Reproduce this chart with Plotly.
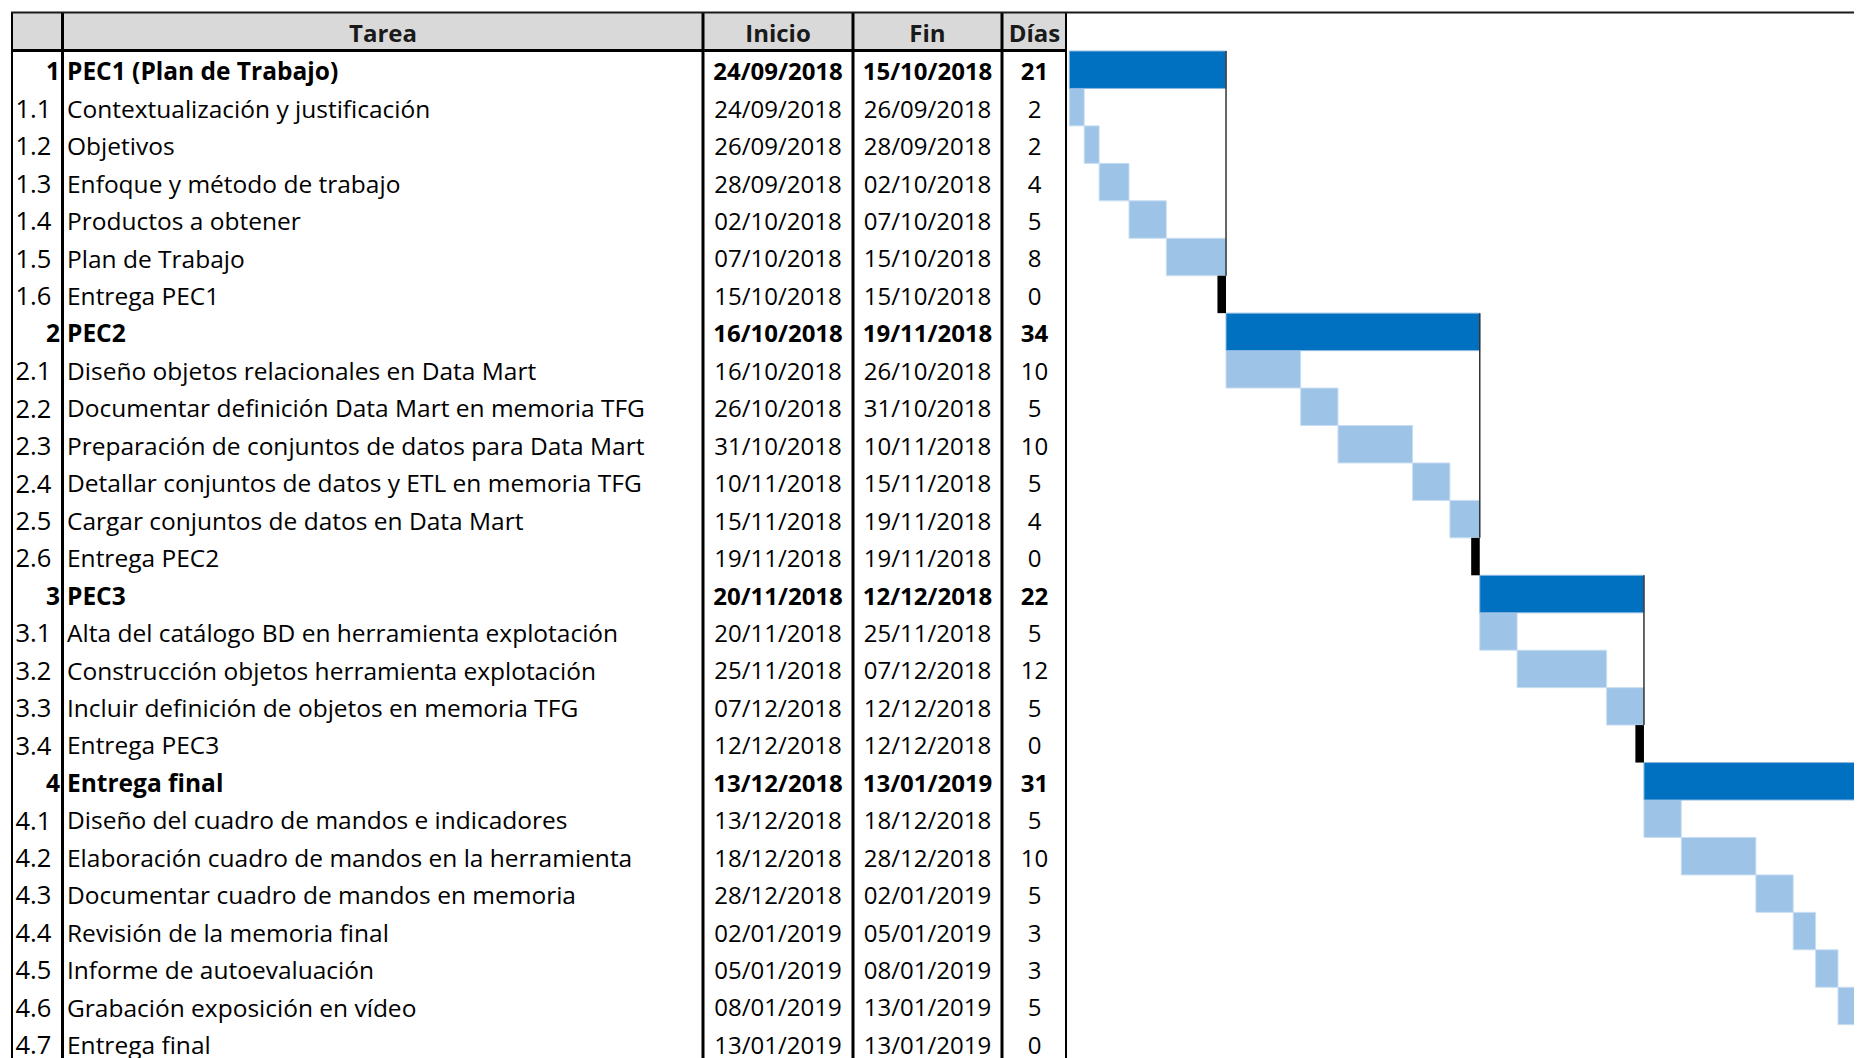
import plotly.graph_objects as go

# ---------------- data ----------------
ids = ["1", "1.1", "1.2", "1.3", "1.4", "1.5", "1.6",
       "2", "2.1", "2.2", "2.3", "2.4", "2.5", "2.6",
       "3", "3.1", "3.2", "3.3", "3.4",
       "4", "4.1", "4.2", "4.3", "4.4", "4.5", "4.6", "4.7"]
tareas = ["PEC1 (Plan de Trabajo)", "Contextualización y justificación", "Objetivos",
          "Enfoque y método de trabajo", "Productos a obtener", "Plan de Trabajo", "Entrega PEC1",
          "PEC2", "Diseño objetos relacionales en Data Mart",
          "Documentar definición Data Mart en memoria TFG",
          "Preparación de conjuntos de datos para Data Mart",
          "Detallar conjuntos de datos y ETL en memoria TFG",
          "Cargar conjuntos de datos en Data Mart", "Entrega PEC2",
          "PEC3", "Alta del catálogo BD en herramienta explotación",
          "Construcción objetos herramienta explotación",
          "Incluir definición de objetos en memoria TFG", "Entrega PEC3",
          "Entrega final", "Diseño del cuadro de mandos e indicadores",
          "Elaboración cuadro de mandos en la herramienta",
          "Documentar cuadro de mandos en memoria", "Revisión de la memoria final",
          "Informe de autoevaluación", "Grabación exposición en vídeo", "Entrega final"]
inicio = ["24/09/2018", "24/09/2018", "26/09/2018", "28/09/2018", "02/10/2018", "07/10/2018", "15/10/2018",
          "16/10/2018", "16/10/2018", "26/10/2018", "31/10/2018", "10/11/2018", "15/11/2018", "19/11/2018",
          "20/11/2018", "20/11/2018", "25/11/2018", "07/12/2018", "12/12/2018",
          "13/12/2018", "13/12/2018", "18/12/2018", "28/12/2018", "02/01/2019", "05/01/2019", "08/01/2019",
          "13/01/2019"]
fin = ["15/10/2018", "26/09/2018", "28/09/2018", "02/10/2018", "07/10/2018", "15/10/2018", "15/10/2018",
       "19/11/2018", "26/10/2018", "31/10/2018", "10/11/2018", "15/11/2018", "19/11/2018", "19/11/2018",
       "12/12/2018", "25/11/2018", "07/12/2018", "12/12/2018", "12/12/2018",
       "13/01/2019", "18/12/2018", "28/12/2018", "02/01/2019", "05/01/2019", "08/01/2019", "13/01/2019",
       "13/01/2019"]
dias = [21, 2, 2, 4, 5, 8, 0,
        34, 10, 5, 10, 5, 4, 0,
        22, 5, 12, 5, 0,
        31, 5, 10, 5, 3, 3, 5, 0]
headers = ["Tarea", "Inicio", "Fin", "Días"]

# ---------------- derived (schedule offsets from cumulative durations) ----------------
n = len(ids)
rows = list(range(n))
is_phase = ["." not in s for s in ids]
offset = []
running = 0
for i in range(n):
    offset.append(running)
    if not is_phase[i]:
        running += dias[i]

# ---------------- layout constants (screen pixels) ----------------
SCR_W, SCR_H = 1862, 1058
OFF = 8                      # page body margin
W, H = SCR_W - OFF, SCR_H - OFF
TOP = 12
ROW_TOP = 51
ROW_H = 37.45
GANTT_LEFT = 1067
DAY0_PX = 1069.3
PX_PER_DAY = 7.463
MS_W = 1.15                  # milestone width in days
TXT_DY = 0.12                # text baseline nudge (rows)

def py(p):
    return (p - ROW_TOP) / ROW_H - 0.5

def fx(p):
    return (p - OFF) / W

FONT = "Open Sans"
FS_T = 24.5
FS_D = 24
FS_ID = 25.5

fig = go.Figure()

# ---------------- gantt bars ----------------
ph = [i for i in rows if is_phase[i]]
sub = [i for i in rows if (not is_phase[i]) and dias[i] > 0]
ms = [i for i in rows if (not is_phase[i]) and dias[i] == 0]

fig.add_trace(go.Bar(orientation="h", y=sub, x=[dias[i] for i in sub], base=[offset[i] for i in sub],
                     width=1, marker=dict(color="#9DC3E6", line=dict(color="#C9DEF2", width=1)),
                     xaxis="x2", yaxis="y", hoverinfo="skip", showlegend=False))
fig.add_trace(go.Bar(orientation="h", y=ph, x=[dias[i] for i in ph], base=[offset[i] for i in ph],
                     width=1, marker=dict(color="#0070C0", line=dict(color="#8DB8E2", width=1)),
                     xaxis="x2", yaxis="y", hoverinfo="skip", showlegend=False))
fig.add_trace(go.Bar(orientation="h", y=ms, x=[MS_W] * len(ms), base=[offset[i] - MS_W for i in ms],
                     width=1, marker=dict(color="#000000", line=dict(width=0)),
                     xaxis="x2", yaxis="y", hoverinfo="skip", showlegend=False))

# thin connector from phase end down to its milestone
lx, ly = [], []
for p in ph:
    m = next(i for i in ms if i > p)
    end = offset[p] + dias[p]
    lx += [end, end, None]
    ly += [p - 0.5, m - 0.5, None]
fig.add_trace(go.Scatter(x=lx, y=ly, mode="lines", line=dict(color="#333333", width=1.5),
                         xaxis="x2", yaxis="y", hoverinfo="skip", showlegend=False))

# ---------------- table text ----------------
def bold(s, b):
    return f"<b>{s}</b>" if b else s

COLS = {"num_r": 60, "num_l": 15.5, "tarea": 67, "inicio": 778, "fin": 927.5, "dias": 1034.5}

def add_text(xpos, idx, texts, pos, fs):
    fig.add_trace(go.Scatter(x=[xpos] * len(idx), y=[r + TXT_DY for r in idx], mode="text",
                             text=[bold(texts[i], is_phase[i]) for i in idx],
                             textposition=pos, textfont=dict(family=FONT, size=fs, color="#000000"),
                             xaxis="x", yaxis="y", hoverinfo="skip", showlegend=False, cliponaxis=False))

non_ph = [i for i in rows if not is_phase[i]]
add_text(COLS["num_r"], ph, ids, "middle left", FS_T)
add_text(COLS["num_l"], non_ph, ids, "middle right", FS_ID)
add_text(COLS["tarea"], rows, tareas, "middle right", FS_T)
add_text(COLS["inicio"], rows, inicio, "middle center", FS_D)
add_text(COLS["fin"], rows, fin, "middle center", FS_D)
add_text(COLS["dias"], rows, [str(d) for d in dias], "middle center", FS_D)

hy = py((TOP + ROW_TOP) / 2) + TXT_DY
fig.add_trace(go.Scatter(x=[383, COLS["inicio"], COLS["fin"], COLS["dias"]], y=[hy] * 4, mode="text",
                         text=[f"<b>{h}</b>" for h in headers], textposition="middle center",
                         textfont=dict(family=FONT, size=FS_D, color="#1a1a1a"),
                         xaxis="x", yaxis="y", hoverinfo="skip", showlegend=False, cliponaxis=False))

# ---------------- table borders ----------------
shapes = []
shapes.append(dict(type="rect", xref="x", yref="y", x0=12, x1=GANTT_LEFT, y0=py(TOP), y1=py(ROW_TOP),
                   fillcolor="#D9D9D9", line=dict(width=0), layer="below"))
for xv, wv in [(12, 2), (62.5, 3), (703, 3), (853, 3), (1002, 3), (1066.5, 3)]:
    shapes.append(dict(type="line", xref="x", yref="y", x0=xv, x1=xv, y0=py(TOP), y1=py(SCR_H + 5),
                       line=dict(color="#000000", width=wv), layer="above"))
shapes.append(dict(type="line", xref="paper", yref="y", x0=fx(11), x1=1, y0=py(TOP + 0.5), y1=py(TOP + 0.5),
                   line=dict(color="#1a1a1a", width=2), layer="above"))
shapes.append(dict(type="line", xref="x", yref="y", x0=11, x1=GANTT_LEFT + 1, y0=py(ROW_TOP - 0.5),
                   y1=py(ROW_TOP - 0.5), line=dict(color="#000000", width=3), layer="above"))

axis_off = dict(visible=False, showgrid=False, zeroline=False, fixedrange=True)
fig.update_layout(
    width=W, height=H, autosize=False,
    margin=dict(l=0, r=0, t=0, b=0, pad=0),
    paper_bgcolor="white", plot_bgcolor="white",
    barmode="overlay",
    showlegend=False,
    shapes=shapes,
    xaxis=dict(domain=[0, fx(GANTT_LEFT)], range=[OFF, GANTT_LEFT], **axis_off),
    xaxis2=dict(domain=[fx(GANTT_LEFT), 1],
                range=[(GANTT_LEFT - DAY0_PX) / PX_PER_DAY, (SCR_W - DAY0_PX) / PX_PER_DAY], **axis_off),
    yaxis=dict(range=[py(SCR_H), py(OFF)], **axis_off),
)

fig.write_html("out.html", config={"displayModeBar": False})
